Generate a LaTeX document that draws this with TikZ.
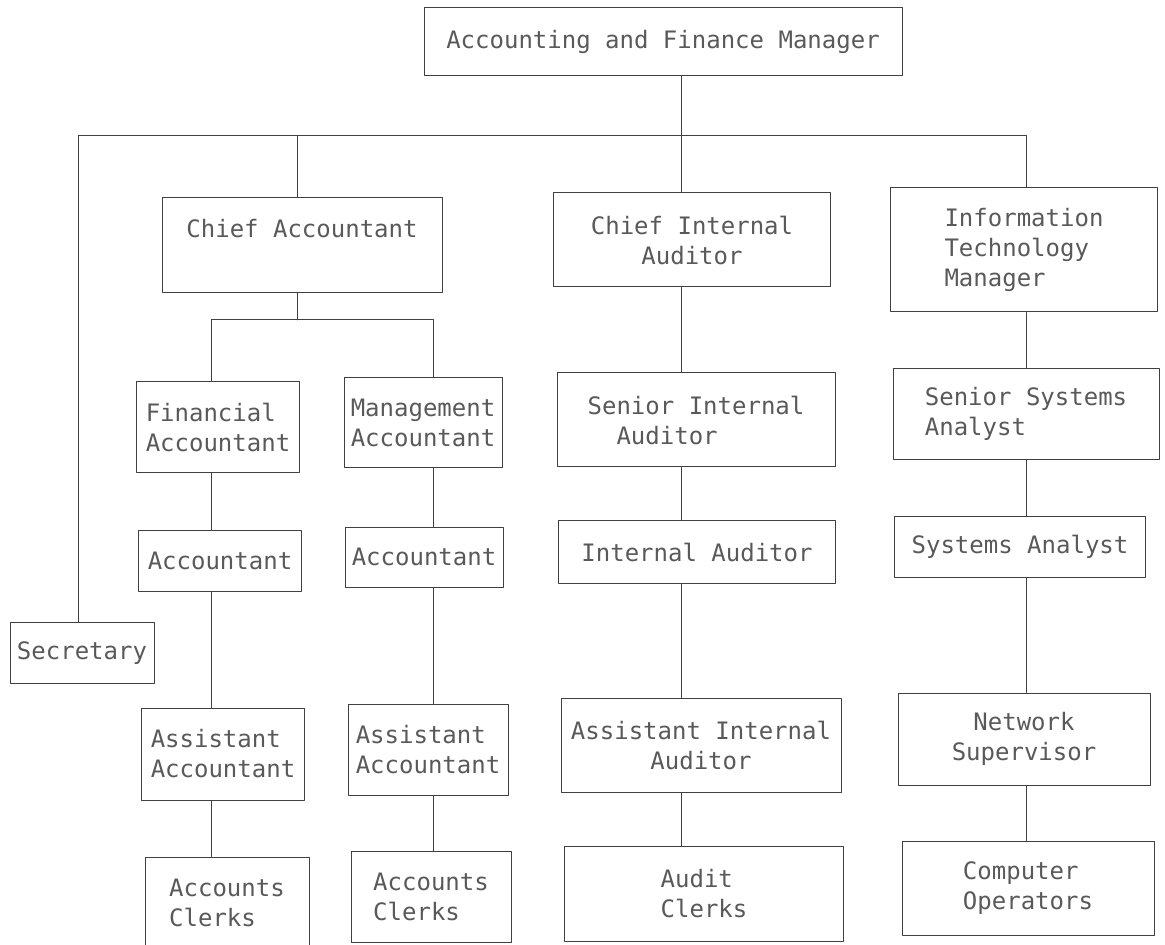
\documentclass[tikz,border=0pt]{standalone}
\usepackage{fontspec}
\setmonofont{DejaVu Sans Mono}
\begin{document}
\begin{tikzpicture}[x=0.5pt,y=-0.5pt,line join=round,line cap=round,
	font=\ttfamily\fontsize{12}{15}\selectfont,
	post/.style={draw=black!75,line width=0.5pt,text=black!65,inner sep=0pt},
	wh/.style 2 args={minimum width=#1*0.5pt,minimum height=#2*0.5pt},
	wire/.style={draw=black!75,line width=0.5pt}]
	\path[use as bounding box,clip] (0,0) rectangle (1165,945);
	\path
	(78,0) coordinate (cS)
	(297,0) coordinate (cT)
	(211,0) coordinate (cA)
	(433,0) coordinate (cB)
	(681,0) coordinate (cC)
	(1026,0) coordinate (cD)
	(0,136) coordinate (bus)
	(0,320) coordinate (sub)
	;
	\node[post,wh={478}{68}] (afm) at (663,42) {Accounting and Finance Manager};
	\node[post,wh={280}{95}] (ca) at (302,245) {\raisebox{17pt}{Chief Accountant}};
	\node[post,wh={277}{94},align=center] (cia) at (692,240) {Chief Internal\\Auditor};
	\node[post,wh={267}{124},align=left] (itm) at (1024,250) {Information\\Technology\\Manager};
	\node[post,wh={144}{61}] (sec) at (82,653) {Secretary};
	\node[post,wh={163}{91},align=left] (fa) at (218,427) {Financial\\Accountant};
	\node[post,wh={158}{90},align=left] (ma) at (423,423) {Management\\Accountant};
	\node[post,wh={163}{61}] (acc1) at (220,561) {Accountant};
	\node[post,wh={158}{60}] (acc2) at (424,557) {Accountant};
	\node[post,wh={163}{92},align=left] (aa1) at (223,754) {Assistant\\Accountant};
	\node[post,wh={160}{91},align=left] (aa2) at (428,750) {Assistant\\Accountant};
	\node[post,wh={164}{92},align=left] (ac1) at (227,903) {Accounts\\Clerks};
	\node[post,wh={160}{91},align=left] (ac2) at (431,897) {Accounts\\Clerks};
	\node[post,wh={278}{94},align=left] (sia) at (696,420) {Senior Internal\\\hphantom{Se}Auditor};
	\node[post,wh={277}{63}] (ia) at (697,552) {Internal Auditor};
	\node[post,wh={280}{94},align=center] (aia) at (701,745) {Assistant Internal\\Auditor};
	\node[post,wh={279}{95},align=left] (adc) at (704,894) {Audit\\Clerks};
	\node[post,wh={266}{91},align=left] (ssa) at (1026,414) {Senior Systems\\Analyst};
	\node[post,wh={251}{61}] (sa) at (1020,547) {Systems Analyst};
	\node[post,wh={252}{92},align=center] (ns) at (1024,739) {Network\\Supervisor};
	\node[post,wh={252}{94},align=left] (co) at (1028,888) {Computer\\Operators};
	\draw[wire] (afm.south -| cC) -- (cia.north -| cC);
	\draw[wire] (sec.north -| cS) |- (bus -| cD) -- (itm.north -| cD);
	\draw[wire] (bus -| cT) -- (ca.north -| cT);
	\draw[wire] (ca.south -| cT) -- (sub -| cT);
	\draw[wire] (fa.north -| cA) |- (sub -| cB) -- (ma.north -| cB);
	\foreach \u/\v/\c in {fa/acc1/cA,acc1/aa1/cA,aa1/ac1/cA,ma/acc2/cB,acc2/aa2/cB,aa2/ac2/cB,
		cia/sia/cC,sia/ia/cC,ia/aia/cC,aia/adc/cC,itm/ssa/cD,ssa/sa/cD,sa/ns/cD,ns/co/cD}
		\draw[wire] (\u.south -| \c) -- (\v.north -| \c);
\end{tikzpicture}
\end{document}
